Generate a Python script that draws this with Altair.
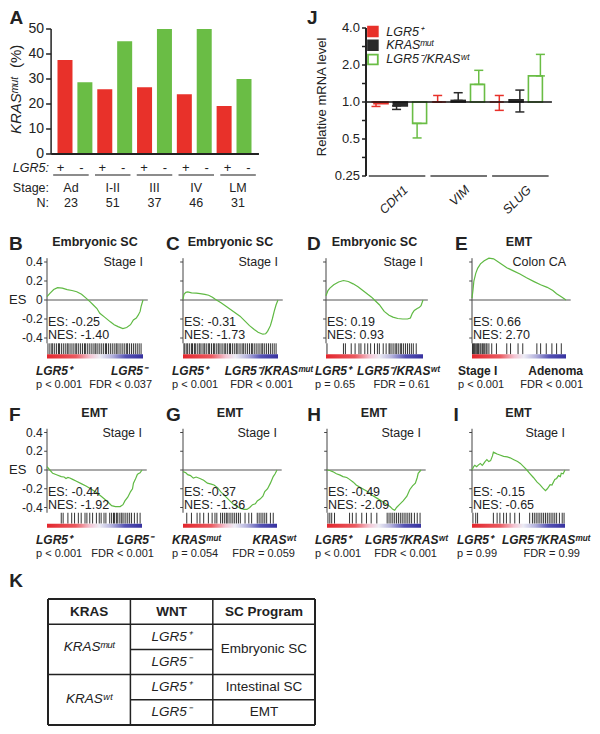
import altair as alt
import pandas as pd

FONT = "Liberation Sans"
RED = "#e8312a"
GREEN = "#6abd45"
BLACK = "#2a2a2a"
CURVE = "#5fb943"
INK = "#222222"

# ---------------- Panel A data
stages = ["Ad", "I-II", "III", "IV", "LM"]
stage_n = ["23", "51", "37", "46", "31"]
kras_mut_lgr5_pos = [37.6, 25.9, 26.7, 23.9, 19.2]
kras_mut_lgr5_neg = [28.7, 45.1, 50.0, 50.0, 30.0]
a_ticks = [0, 10, 20, 30, 40, 50]

# ---------------- Panel J data
genes = ["CDH1", "VIM", "SLUG"]
j_series = ["LGR5⁺", "KRASᵐᵘᵗ", "LGR5⁻/KRASʷᵗ"]
j_mean_lgr5 = [0.97, 1.00, 1.00]
j_mean_kras = [0.93, 1.03, 1.04]
j_mean_neg = [0.67, 1.39, 1.63]
j_low_lgr5 = [0.92, 1.00, 0.855]
j_high_lgr5 = [1.00, 1.13, 1.13]
j_low_kras = [0.87, 1.03, 0.83]
j_high_kras = [0.93, 1.19, 1.25]
j_low_neg = [0.51, 1.39, 1.63]
j_high_neg = [0.67, 1.81, 2.44]
j_ticks = [0.25, 0.5, 1.0, 2.0, 4.0]
j_tick_labels = ["0.25", "0.5", "1.0", "2.0", "4.0"]
j_minor = [0.354, 0.707, 1.414, 2.828]

# ---------------- GSEA running enrichment scores
B_pos = [0, 3, 7, 11, 16, 21, 26, 31, 36, 41, 45, 48, 52, 55, 60, 66, 70, 74, 79, 83, 87, 90, 93, 95, 97, 98, 100]
B_es = [0.035, 0.07, 0.11, 0.13, 0.125, 0.11, 0.10, 0.087, 0.06, 0.017, -0.02, -0.05, -0.09, -0.14, -0.18, -0.23, -0.26, -0.28, -0.30, -0.29, -0.26, -0.21, -0.19, -0.16, -0.12, -0.07, 0.0]
C_pos = [0, 1, 3, 5, 9, 14, 18, 23, 27, 31, 34, 40, 46, 53, 60, 65, 70, 75, 79, 84, 87, 89, 92, 94, 96, 98, 100]
C_es = [0.007, 0.06, 0.08, 0.085, 0.075, 0.072, 0.068, 0.06, 0.05, 0.03, 0.007, -0.03, -0.07, -0.12, -0.17, -0.22, -0.27, -0.31, -0.34, -0.36, -0.355, -0.33, -0.27, -0.2, -0.12, -0.05, 0.0]
D_pos = [0, 2, 4, 8, 13, 18, 23, 28, 33, 38, 43, 47, 51, 55, 60, 65, 69, 74, 79, 84, 87, 89, 91, 94, 96, 98, 100]
D_es = [0.045, 0.1, 0.125, 0.16, 0.19, 0.205, 0.195, 0.17, 0.14, 0.10, 0.06, 0.03, -0.01, -0.05, -0.12, -0.16, -0.18, -0.195, -0.2, -0.2, -0.19, -0.14, -0.11, -0.09, -0.08, -0.06, 0.0]
E_pos = [0, 1, 2, 4, 6, 9, 13, 18, 23, 30, 37, 44, 51, 58, 66, 73, 80, 86, 90, 95, 100]
E_es = [0.03, 0.15, 0.3, 0.42, 0.5, 0.57, 0.62, 0.66, 0.65, 0.58, 0.51, 0.46, 0.41, 0.35, 0.29, 0.24, 0.2, 0.15, 0.1, 0.05, 0.0]
F_pos = [0, 3, 6, 10, 15, 18, 20, 22, 24, 27, 31, 36, 41, 46, 52, 57, 63, 66, 68, 72, 77, 80, 82, 85, 88, 90, 91, 93, 95, 96, 98, 100]
F_es = [0.035, 0.0, -0.035, -0.05, -0.07, -0.075, -0.09, -0.08, -0.085, -0.1, -0.12, -0.145, -0.17, -0.2, -0.24, -0.28, -0.33, -0.36, -0.38, -0.39, -0.39, -0.37, -0.33, -0.29, -0.23, -0.2, -0.14, -0.1, -0.05, -0.04, -0.03, 0.0]
G_pos = [0, 3, 5, 8, 11, 14, 18, 22, 26, 30, 33, 37, 40, 44, 47, 51, 54, 58, 61, 65, 68, 71, 74, 77, 79, 82, 85, 87, 90, 93, 96, 98, 100]
G_es = [-0.017, -0.03, -0.05, -0.06, -0.087, -0.075, -0.09, -0.11, -0.14, -0.15, -0.16, -0.19, -0.23, -0.27, -0.3, -0.34, -0.37, -0.39, -0.41, -0.42, -0.42, -0.4, -0.37, -0.36, -0.33, -0.31, -0.28, -0.23, -0.2, -0.14, -0.07, -0.04, 0.0]
H_pos = [0, 3, 6, 10, 14, 17, 21, 24, 28, 31, 36, 43, 48, 53, 58, 64, 67, 70, 72, 74, 77, 81, 85, 88, 91, 94, 96, 97, 100]
H_es = [0.0, -0.005, -0.017, -0.04, -0.055, -0.07, -0.08, -0.1, -0.13, -0.16, -0.19, -0.23, -0.27, -0.3, -0.33, -0.37, -0.39, -0.42, -0.43, -0.4, -0.37, -0.33, -0.28, -0.21, -0.17, -0.14, -0.08, -0.035, 0.0]
I_pos = [0, 2, 3, 5, 7, 9, 11, 12, 14, 16, 18, 20, 22, 23, 25, 27, 30, 34, 38, 41, 45, 49, 52, 56, 59, 62, 66, 70, 73, 76, 79, 81, 84, 86, 89, 91, 93, 95, 96, 98, 100]
I_es = [0.0, 0.04, 0.05, 0.035, 0.055, 0.07, 0.05, 0.06, 0.09, 0.11, 0.09, 0.1, 0.15, 0.19, 0.18, 0.17, 0.16, 0.146, 0.14, 0.13, 0.11, 0.09, 0.07, 0.03, 0.0, -0.035, -0.08, -0.13, -0.156, -0.19, -0.22, -0.2, -0.156, -0.16, -0.10, -0.09, -0.06, -0.07, -0.035, -0.04, 0.0]

# gene-set hit positions (barcode)
B_hits = [1, 3, 5, 6, 8, 10, 12, 13, 15, 17, 19, 21, 22, 24, 26, 28, 30, 31, 33, 35, 37, 39, 40, 42, 44, 46, 48, 50, 51, 53, 55, 57, 59, 61, 62, 64, 66, 68, 70, 72, 73, 75, 77, 79, 81, 83, 84, 86, 88, 90, 92, 94, 96, 98]
C_hits = [1, 2, 4, 5, 7, 9, 10, 12, 13, 15, 17, 18, 20, 22, 23, 25, 27, 28, 30, 32, 33, 35, 37, 38, 40, 42, 44, 45, 47, 49, 50, 52, 54, 56, 57, 59, 61, 63, 64, 66, 68, 70, 72, 73, 75, 77, 79, 81, 83, 84, 86, 88, 90, 92, 94, 96, 98]
D_hits = [1, 18, 20, 26, 30, 34, 36, 40, 43, 46, 50, 53, 55, 59, 62, 65, 66, 68, 70, 72, 73, 75, 77, 78, 80, 82, 84, 86, 88, 90, 93]
E_hits = [0.5, 1.5, 2.5, 3.5, 5, 6, 7, 8.5, 9.5, 11, 12, 13.5, 15, 16, 18, 21, 26, 37, 41, 49, 54, 69, 73, 79, 85, 90, 95]
F_hits = [15, 17, 22, 26, 29, 33, 36, 40, 42, 45, 48, 52, 55, 57, 60, 62, 66, 68, 70, 71, 73, 74, 76, 78, 79, 81, 83, 85, 87, 89, 92, 95, 98]
G_hits = [4, 9, 15, 18, 22, 27, 31, 34, 36, 40, 42, 44, 46, 47, 49, 51, 53, 55, 57, 59, 61, 66, 70, 73, 79, 81, 83, 85, 87, 89, 93, 96]
H_hits = [1, 3, 5, 8, 24, 27, 31, 37, 42, 47, 53, 64, 66, 68, 70, 72, 74, 76, 78, 80, 82, 84, 86, 88, 90, 93, 96, 99]
I_hits = [1, 4, 6, 23, 27, 30, 34, 37, 41, 46, 51, 62, 65, 67, 69, 71, 73, 75, 77, 79, 81, 83, 85, 87, 89, 91, 94, 97, 99]

gsea_names = ["B", "C", "D", "E", "F", "G", "H", "I"]
gsea_titles = ["Embryonic SC", "Embryonic SC", "Embryonic SC", "EMT", "EMT", "EMT", "EMT", "EMT"]
gsea_corner = ["Stage I", "Stage I", "Stage I", "Colon CA", "Stage I", "Stage I", "Stage I", "Stage I"]
gsea_es = ["-0.25", "-0.31", "0.19", "0.66", "-0.44", "-0.37", "-0.49", "-0.15"]
gsea_nes = ["-1.40", "-1.73", "0.93", "2.70", "-1.92", "-1.36", "-2.09", "-0.65"]
gsea_left = ["LGR5⁺", "LGR5⁺", "LGR5⁺", "Stage I", "LGR5⁺", "KRASᵐᵘᵗ", "LGR5⁺", "LGR5⁺"]
gsea_right = ["LGR5⁻", "LGR5⁻/KRASᵐᵘᵗ", "LGR5⁻/KRASʷᵗ", "Adenoma", "LGR5⁻", "KRASʷᵗ", "LGR5⁻/KRASʷᵗ", "LGR5⁻/KRASᵐᵘᵗ"]
gsea_p = ["p < 0.001", "p < 0.001", "p = 0.65", "p < 0.001", "p < 0.001", "p = 0.054", "p < 0.001", "p = 0.99"]
gsea_fdr = ["FDR < 0.037", "FDR < 0.001", "FDR = 0.61", "FDR < 0.001", "FDR < 0.001", "FDR = 0.059", "FDR < 0.001", "FDR = 0.99"]
gsea_ymax = [0.4, 0.4, 0.4, 0.6, 0.4, 0.4, 0.4, 0.4]
gsea_curves = [(B_pos, B_es), (C_pos, C_es), (D_pos, D_es), (E_pos, E_es),
               (F_pos, F_es), (G_pos, G_es), (H_pos, H_es), (I_pos, I_es)]
gsea_hits = [B_hits, C_hits, D_hits, E_hits, F_hits, G_hits, H_hits, I_hits]

# ---------------- Panel K table
k_header = ["KRAS", "WNT", "SC Program"]
k_kras = ["KRASᵐᵘᵗ", "KRASʷᵗ"]
k_wnt = ["LGR5⁺", "LGR5⁻", "LGR5⁺", "LGR5⁻"]
k_program = ["Embryonic SC", "Intestinal SC", "EMT"]

# ================= helpers
OFF = 8


def S(domain, rng):
    return alt.Scale(domain=list(domain), range=[r - OFF for r in rng], nice=False, zero=False)


def texts(rows, xs, ys, **mk):
    df = pd.DataFrame(rows, columns=["x", "y", "t"])
    return alt.Chart(df).mark_text(**mk).encode(
        x=alt.X("x:Q", scale=xs, axis=None),
        y=alt.Y("y:Q", scale=ys, axis=None),
        text="t:N",
    )


def segs(rows, xs, ys, **mk):
    df = pd.DataFrame(rows, columns=["x", "y", "x2", "y2"])
    return alt.Chart(df).mark_rule(**mk).encode(
        x=alt.X("x:Q", scale=xs, axis=None),
        y=alt.Y("y:Q", scale=ys, axis=None),
        x2="x2:Q",
        y2="y2:Q",
    )


layers = []

# ================= Panel A
ax = S([-0.5, 9.5], [50.05, 258.95])
ay = S([0, 50], [154, 29])
rowsA = []
for i in range(5):
    rowsA.append((2 * i, kras_mut_lgr5_pos[i], RED))
    rowsA.append((2 * i + 1, kras_mut_lgr5_neg[i], GREEN))
dfA = pd.DataFrame(rowsA, columns=["pos", "val", "c"])
dfA["base"] = 0.0
layers.append(alt.Chart(dfA).mark_bar(width=15).encode(
    x=alt.X("pos:Q", scale=ax, axis=None),
    y=alt.Y("val:Q", scale=ay, axis=None),
    y2="base:Q",
    color=alt.Color("c:N", scale=None),
))
layers.append(segs([(-0.45, 0, -0.45, 50)], ax, ay, color=INK, strokeWidth=1.5))
layers.append(segs([(-0.45, 0, 9.5, 0)], ax, ay, color=INK, strokeWidth=2))
layers.append(segs([(-0.69, t, -0.45, t) for t in a_ticks], ax, ay, color=INK, strokeWidth=1.5))
layers.append(texts([(-0.79, t, str(t)) for t in a_ticks], ax, ay, align="right", fontSize=14, color=INK))
layers.append(texts([(-2.14, 8, "KRASᵐᵘᵗ")], ax, ay, angle=270, align="left", fontStyle="italic", fontSize=15, color=INK))
layers.append(texts([(-2.14, 34.4, "(%)")], ax, ay, angle=270, align="left", fontSize=15, color=INK))
layers.append(texts([(i, -5.6, "+" if i % 2 == 0 else "-") for i in range(10)], ax, ay, fontSize=13, color=INK))
layers.append(segs([(2 * g - 0.35, -8.4, 2 * g + 1.35, -8.4) for g in range(5)], ax, ay, color="#666", strokeWidth=1.5))
layers.append(texts([(2 * g + 0.5, -13.6, stages[g]) for g in range(5)], ax, ay, fontSize=12.5, color=INK))
layers.append(texts([(2 * g + 0.5, -19.6, stage_n[g]) for g in range(5)], ax, ay, fontSize=12.5, color=INK))
layers.append(texts([(-0.55, -5.6, "LGR5:")], ax, ay, align="right", fontStyle="italic", fontSize=12.5, color=INK))
layers.append(texts([(-0.55, -13.6, "Stage:"), (-0.55, -19.6, "N:")], ax, ay, align="right", fontSize=12.5, color=INK))
layers.append(texts([(-2.44, 54.6, "A")], ax, ay, align="left", fontWeight="bold", fontSize=19, color=INK))

# ================= Panel J
jx = S([0, 8], [376, 540.4])
jy = alt.Scale(type="log", base=2, domain=[0.25, 4], range=[176 - OFF, 28 - OFF], nice=False)
j_means = [j_mean_lgr5, j_mean_kras, j_mean_neg]
j_lows = [j_low_lgr5, j_low_kras, j_low_neg]
j_highs = [j_high_lgr5, j_high_kras, j_high_neg]
j_fill = [RED, BLACK, "#ffffff"]
j_stroke = [RED, BLACK, GREEN]
rowsJ = []
for g in range(3):
    for s in range(3):
        rowsJ.append(dict(pos=3 * g + s, val=j_means[s][g], base=1.0, fill=j_fill[s],
                          stroke=j_stroke[s], lo=j_lows[s][g], hi=j_highs[s][g]))
dfJ = pd.DataFrame(rowsJ)
jX = alt.X("pos:Q", scale=jx, axis=None)
layers.append(alt.Chart(dfJ).mark_bar(width=14, strokeWidth=1.6).encode(
    x=jX, y=alt.Y("val:Q", scale=jy, axis=None), y2="base:Q",
    fill=alt.Fill("fill:N", scale=None), stroke=alt.Stroke("stroke:N", scale=None),
))
layers.append(alt.Chart(dfJ).mark_rule(strokeWidth=1.5).encode(
    x=jX, y=alt.Y("lo:Q", scale=jy, axis=None), y2="hi:Q", color=alt.Color("stroke:N", scale=None)))
for fld in ["lo", "hi"]:
    layers.append(alt.Chart(dfJ).transform_calculate(xl="datum.pos - 0.22", xr="datum.pos + 0.22").mark_rule(strokeWidth=1.5).encode(
        x=alt.X("xl:Q", scale=jx, axis=None), x2="xr:Q",
        y=alt.Y(fld + ":Q", scale=jy, axis=None), color=alt.Color("stroke:N", scale=None)))
layers.append(segs([(-0.487, 1.0, 8.56, 1.0)], jx, jy, color="#111", strokeWidth=1.6))
layers.append(segs([(-0.487, 0.25, -0.487, 4.0)], jx, jy, color=INK, strokeWidth=2))
layers.append(segs([(-0.68, t, -0.487, t) for t in j_ticks + j_minor], jx, jy, color=INK, strokeWidth=1.5))
layers.append(texts([(-0.78, t, lab) for t, lab in zip(j_ticks, j_tick_labels)], jx, jy, align="right", fontSize=13, color=INK))
layers.append(segs([(3 * g - 0.35, 0.25, 3 * g + 2.4, 0.25) for g in range(3)], jx, jy, color="#444", strokeWidth=1.5))
layers.append(texts([(3 * g + 1.45, 0.2, genes[g]) for g in range(3)], jx, jy, angle=315, align="right",
                    fontStyle="italic", fontSize=12.5, color=INK))
leg_y = [3.74, 2.90, 2.22]
dfLeg = pd.DataFrame({"x": [-0.15, -0.15, -0.15], "y": leg_y, "fill": j_fill, "stroke": j_stroke})
layers.append(alt.Chart(dfLeg).mark_square(size=95, strokeWidth=1.8, opacity=1).encode(
    x=alt.X("x:Q", scale=jx, axis=None), y=alt.Y("y:Q", scale=jy, axis=None),
    fill=alt.Fill("fill:N", scale=None), stroke=alt.Stroke("stroke:N", scale=None)))
layers.append(texts([(0.5, y, s) for y, s in zip(leg_y, j_series)], jx, jy, align="left",
                    fontStyle="italic", fontSize=12.5, color=INK))
layers.append(texts([(-2.63, 1.1, "Relative mRNA level")], jx, jy, angle=270, fontSize=13, color=INK))
layers.append(texts([(-3.36, 4.83, "J")], jx, jy, align="left", fontWeight="bold", fontSize=19, color=INK))

# ================= GSEA panels B-I
GRAD = alt.Gradient(
    gradient="linear",
    stops=[alt.GradientStop(color=c, offset=o) for o, c in [
        (0.0, "#e3262d"), (0.3, "#ea5a60"), (0.45, "#f3c4d2"), (0.55, "#ecebf4"),
        (0.68, "#b3b1dc"), (0.82, "#5552b3"), (1.0, "#3732a0")]],
    x1=0, x2=1, y1=0, y2=0,
)

LAYOUT = [
    dict(xr=(47, 143), z=300, ppu=95, letter=-39.6, ylab=True, left=-11.5, right=104.2, fdr=109.4),
    dict(xr=(183, 278), z=300, ppu=95, letter=-18, ylab=False, left=-11.6, right=136.8, fdr=115.8),
    dict(xr=(326, 423), z=300, ppu=95, letter=-19.6, ylab=False, left=-11.3, right=117.5, fdr=107.2),
    dict(xr=(472, 566), z=300, ppu=95, letter=-18, ylab=False, left=-14.9, right=118.1, fdr=118.1),
    dict(xr=(47, 142), z=470, ppu=93.75, letter=-40, ylab=True, left=-11.6, right=111.6, fdr=112.6),
    dict(xr=(183, 277), z=470, ppu=93.75, letter=-18, ylab=False, left=-11.7, right=120.2, fdr=119.1),
    dict(xr=(327, 421), z=470, ppu=93.75, letter=-21, ylab=False, left=-12.8, right=128.7, fdr=117.0),
    dict(xr=(472, 565), z=470, ppu=93.75, letter=-20, ylab=False, left=-16.1, right=127.0, fdr=116.1),
]


def gsea(i):
    L = LAYOUT[i]
    ym = gsea_ymax[i]
    x0, x1 = L["xr"]
    half = 0.4 * L["ppu"]
    xs = S([0, 100], [x0, x1])
    ys = S([-ym, ym], [L["z"] + half, L["z"] - half])

    def f(v):
        return v * ym

    out = []
    ticks = [ym, ym / 2, 0, -ym / 2, -ym]
    out.append(segs([(0, f(1.1), 0, f(-1.14))], xs, ys, color="#444", strokeWidth=1))
    out.append(segs([(-3, t, 0, t) for t in ticks], xs, ys, color="#444", strokeWidth=1))
    if L["ylab"]:
        out.append(texts([(-4.5, t, lab) for t, lab in zip(ticks, ["0.4", "0.2", "0", "-0.2", "-0.4"])],
                         xs, ys, align="right", fontSize=12, color=INK))
        out.append(texts([(L["letter"], 0, "ES")], xs, ys, align="left", fontSize=13, color=INK))
    out.append(segs([(0, 0, 105, 0)], xs, ys, color="#555", strokeWidth=1))
    pos, es = gsea_curves[i]
    dfc = pd.DataFrame({"x": pos, "y": es})
    out.append(alt.Chart(dfc).mark_line(color=CURVE, strokeWidth=1.2).encode(
        x=alt.X("x:Q", scale=xs, axis=None), y=alt.Y("y:Q", scale=ys, axis=None)))
    out.append(segs([(hp, f(-1.14), hp, f(-1.43)) for hp in gsea_hits[i]], xs, ys,
                    color="#111", strokeWidth=1, opacity=0.85))
    dfg = pd.DataFrame({"x": [0], "x2": [100], "y": [f(-1.43)], "y2": [f(-1.54)]})
    out.append(alt.Chart(dfg).mark_rect(color=GRAD).encode(
        x=alt.X("x:Q", scale=xs, axis=None), x2="x2:Q",
        y=alt.Y("y:Q", scale=ys, axis=None), y2="y2:Q"))
    out.append(texts([(50, f(1.53), gsea_titles[i])], xs, ys, fontWeight="bold", fontSize=12.5, color=INK))
    out.append(texts([(L["letter"], f(1.48), gsea_names[i])], xs, ys, align="left", fontWeight="bold", fontSize=19, color=INK))
    out.append(texts([(100, f(1.0), gsea_corner[i])], xs, ys, align="right", fontSize=12.5, color=INK))
    out.append(texts([(1, f(-0.59), "ES: " + gsea_es[i]), (1, f(-0.925), "NES: " + gsea_nes[i])],
                     xs, ys, align="left", fontSize=12.5, color=INK))
    lab_style = dict(fontWeight="bold", fontSize=12, color=INK)
    if gsea_names[i] != "E":
        lab_style["fontStyle"] = "italic"
    out.append(texts([(L["left"], f(-1.87), gsea_left[i])], xs, ys, align="left", **lab_style))
    out.append(texts([(L["right"], f(-1.87), gsea_right[i])], xs, ys, align="right", **lab_style))
    out.append(texts([(L["left"], f(-2.24), gsea_p[i])], xs, ys, align="left", fontSize=11, color=INK))
    out.append(texts([(L["fdr"], f(-2.24), gsea_fdr[i])], xs, ys, align="right", fontSize=11, color=INK))
    return out


for i in range(8):
    layers.extend(gsea(i))

# ================= Panel K table
kx = S([0, 3.24], [48, 315])
ky = S([0, 5], [599, 725])
layers.append(segs([(0, r, 3.24, r) for r in [1, 3]] + [(1, 2, 2, 2), (1, 4, 3.24, 4)] +
                   [(c, 0, c, 5) for c in [1, 2]], kx, ky, color=INK, strokeWidth=1.5))
layers.append(segs([(0, 0, 3.24, 0), (0, 5, 3.24, 5), (0, 0, 0, 5), (3.24, 0, 3.24, 5)], kx, ky,
                   color=INK, strokeWidth=2))
layers.append(texts([(0.5, 0.5, k_header[0]), (1.5, 0.5, k_header[1]), (2.62, 0.5, k_header[2])], kx, ky,
                    fontWeight="bold", fontSize=13.5, color=INK))
layers.append(texts([(0.5, 1.92, k_kras[0]), (0.5, 3.95, k_kras[1])] +
                    [(1.5, r + 0.5, w) for r, w in zip([1, 2, 3, 4], k_wnt)], kx, ky,
                    fontStyle="italic", fontSize=13.5, color=INK))
layers.append(texts([(2.62, 2.0, k_program[0]), (2.62, 3.5, k_program[1]), (2.62, 4.5, k_program[2])], kx, ky,
                    fontSize=13.5, color=INK))
layers.append(texts([(-0.47, -0.7, "K")], kx, ky, align="left", fontWeight="bold", fontSize=19, color=INK))

chart = (
    alt.layer(*layers)
    .resolve_scale(x="independent", y="independent")
    .properties(width=584, height=718, padding=0, autosize=alt.AutoSizeParams(type="none"))
    .configure(font=FONT)
    .configure_view(stroke=None)
)
chart.save("out.html", embed_options={"renderer": "svg", "actions": False})
